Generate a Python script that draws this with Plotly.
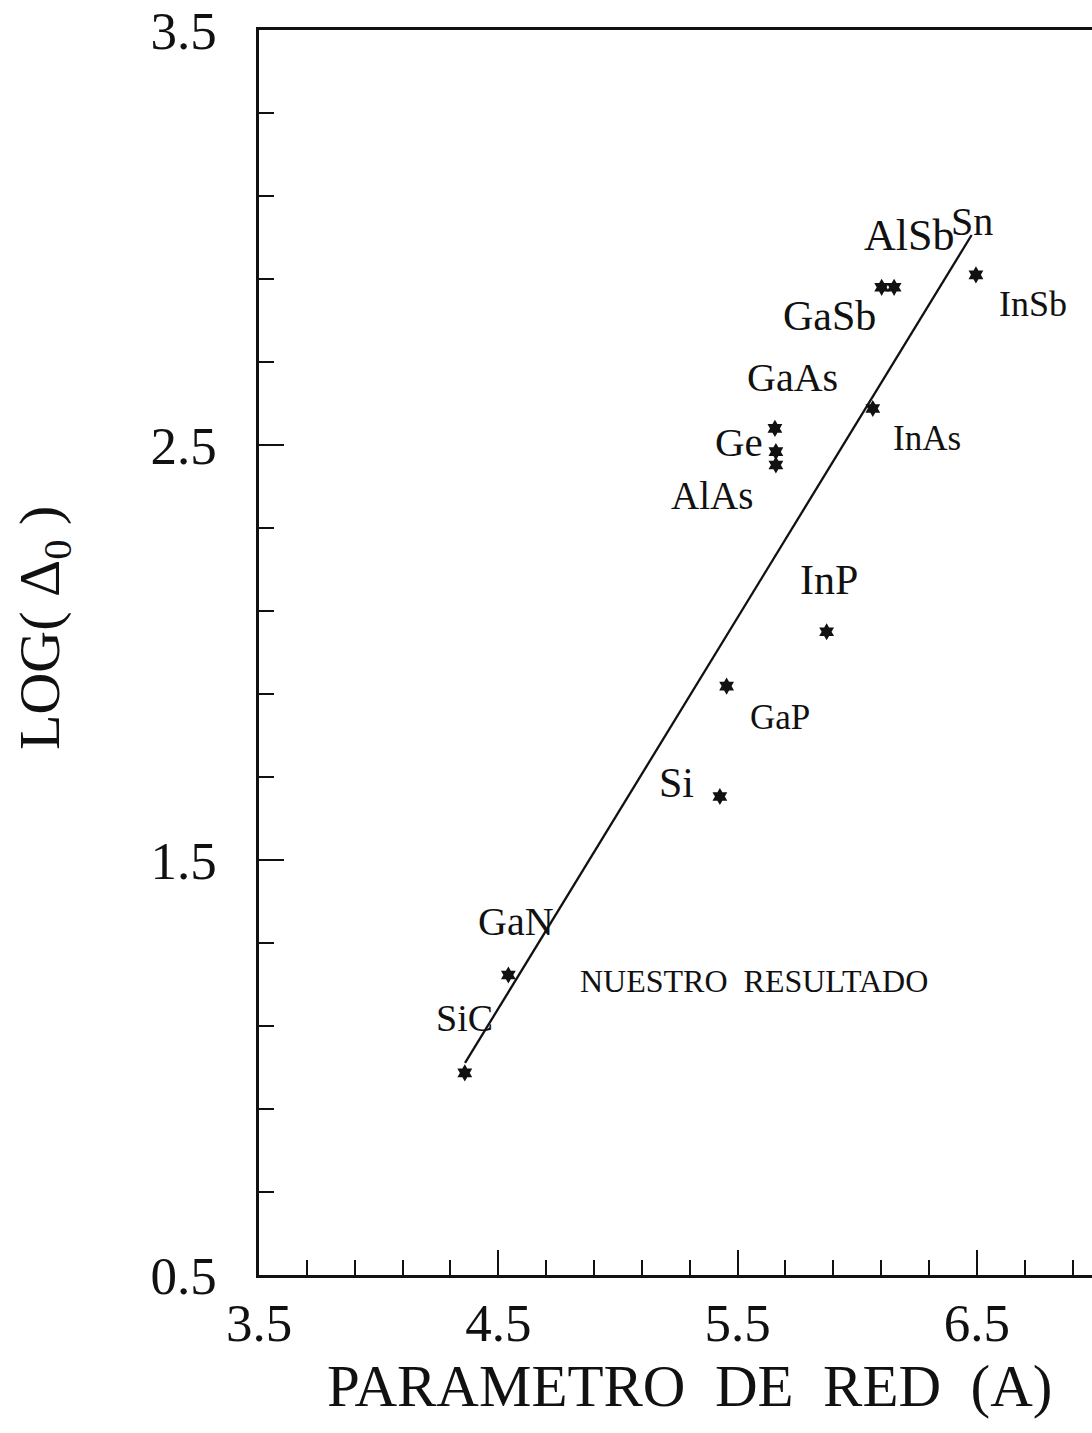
import plotly.graph_objects as go

# Lattice parameter (Angstrom) and log of spin-orbit splitting for each semiconductor
compounds = ["SiC", "GaN", "Si", "GaP", "InP", "GaAs", "Ge", "AlAs", "InAs", "GaSb", "AlSb", "InSb"]
lattice_a = [4.36, 4.542, 5.426, 5.454, 5.872, 5.656, 5.660, 5.660, 6.065, 6.102, 6.154, 6.496]
log_delta = [0.987, 1.223, 1.653, 1.919, 2.050, 2.540, 2.484, 2.452, 2.588, 2.880, 2.880, 2.910]

# Linear trend drawn through the data
fit_a = [4.361, 6.478]
fit_log = [1.011, 3.006]

# Text offsets (pixels) of each compound label from its marker
label_dx = [0, 8, -43, 53, 2, 18, -37, -64, 54, -52, 15, 57]
label_dy = [55, 53, 14, -31, 52, 51, 10, -31, -30, -29, 52, -29]
label_size = [38, 40, 42, 35, 42, 40, 41, 39, 35, 42, 44, 36]

SERIF = "Liberation Serif, Times New Roman, serif"
INK = "#111111"

fig = go.Figure()

fig.add_trace(go.Scatter(
    x=fit_a, y=fit_log, mode="lines",
    line=dict(color=INK, width=2.3),
    hoverinfo="skip", showlegend=False,
))

fig.add_trace(go.Scatter(
    x=lattice_a, y=log_delta, mode="markers",
    marker=dict(symbol="hexagram", size=13, color=INK, line=dict(width=0)),
    text=compounds, showlegend=False,
))

annotations = []
for name, xa, yl, dx, dy, fs in zip(compounds, lattice_a, log_delta, label_dx, label_dy, label_size):
    annotations.append(dict(
        x=xa, y=yl, xref="x", yref="y", text=name, showarrow=False,
        xshift=dx, yshift=dy, xanchor="center", yanchor="middle",
        font=dict(family=SERIF, size=fs, color=INK),
    ))

# Sn sits at the upper end of the trend line
annotations.append(dict(
    x=fit_a[1], y=fit_log[1], xref="x", yref="y", text="Sn", showarrow=False,
    xshift=0, yshift=14, xanchor="center", yanchor="middle",
    font=dict(family=SERIF, size=40, color=INK),
))

W, H = 1092, 1433
L, R, T, B = 259, 0, 30, 158
pw, ph = W - L - R, H - T - B
PX_PER_A = 239.3
PX_PER_LOG = 415.0

annotations.append(dict(
    x=5.5 + (753 - 737) / PX_PER_A, y=3.5 - (981 - 30) / PX_PER_LOG,
    xref="x", yref="y", text="NUESTRO  RESULTADO",
    showarrow=False, xanchor="center", yanchor="middle",
    font=dict(family=SERIF, size=32, color=INK),
))

# Axis titles, placed in page pixels and converted to paper fractions
def paper_x(px):
    return (px - L) / pw


def paper_y(py):
    return 1 - (py - T) / ph


annotations.append(dict(
    x=paper_x(690), y=paper_y(1386), xref="paper", yref="paper",
    text="PARAMETRO  DE  RED  (A)",
    showarrow=False, xanchor="center", yanchor="middle",
    font=dict(family=SERIF, size=59, color=INK),
))
annotations.append(dict(
    x=paper_x(43), y=paper_y(628), xref="paper", yref="paper",
    text="LOG( Δ<sub>0</sub> )",
    showarrow=False, xanchor="center", yanchor="middle", textangle=-90,
    font=dict(family=SERIF, size=58, color=INK),
))

fig.update_layout(
    width=W, height=H,
    margin=dict(l=L, r=R, t=T, b=B, pad=0),
    paper_bgcolor="white", plot_bgcolor="white",
    annotations=annotations,
    showlegend=False,
)

fig.update_xaxes(
    range=[3.5, 3.5 + pw / PX_PER_A],
    tickmode="linear", tick0=3.5, dtick=1, tickformat=".1f",
    ticks="inside", ticklen=25, tickwidth=2, tickcolor=INK,
    minor=dict(tickmode="linear", tick0=3.5, dtick=0.2, ticks="inside",
               ticklen=15, tickwidth=2, tickcolor=INK, showgrid=False),
    showline=True, linecolor=INK, linewidth=2.5, mirror=True,
    showgrid=False, zeroline=False,
    tickfont=dict(family=SERIF, size=53, color=INK),
    ticklabelstandoff=0,
)
fig.update_yaxes(
    range=[0.5, 3.5],
    tickmode="linear", tick0=0.5, dtick=1, tickformat=".1f",
    ticks="inside", ticklen=25, tickwidth=2, tickcolor=INK,
    minor=dict(tickmode="linear", tick0=0.5, dtick=0.2, ticks="inside",
               ticklen=15, tickwidth=2, tickcolor=INK, showgrid=False),
    showline=True, linecolor=INK, linewidth=2.5, mirror=False,
    showgrid=False, zeroline=False,
    tickfont=dict(family=SERIF, size=53, color=INK),
    ticklabelstandoff=29,
)

fig.write_html("out.html")
